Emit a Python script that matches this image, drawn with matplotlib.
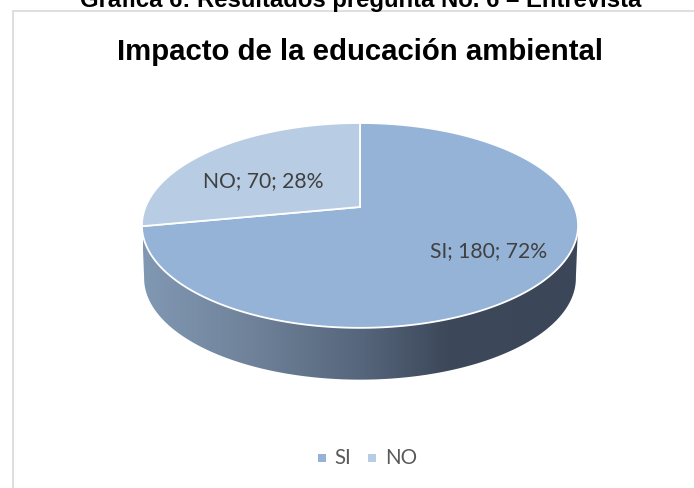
import matplotlib
matplotlib.use('Agg')
import matplotlib.pyplot as plt
from matplotlib.colors import LinearSegmentedColormap
from matplotlib.patches import Polygon, Rectangle
import numpy as np

categories = ['SI', 'NO']
values = [180, 70]
percents = ['72%', '28%']
colors = ['#95B3D7', '#B8CCE4']

caption = 'Gráfica 6: Resultados pregunta No. 6 – Entrevista'
title = 'Impacto de la educación ambiental'

wall_stops = [(0, '#8198B3'), (0.25, '#6F8299'), (0.5, '#56667C'), (0.7, '#3D485A'), (1, '#3B4658')]


def project(theta, scale=1.0, dy=0.0):
    # tilted circle, near side looks bigger, so the centre sits above the middle
    u = np.cos(theta)
    v = np.sin(theta)
    w = 1 + 0.18 * v
    return 360 + 214.5 * scale * u / w, 208 + dy - 99.1 * scale * v / w


fig = plt.figure(figsize=(6.94, 4.89), dpi=100)
ax = fig.add_axes([0, 0, 1, 1])
ax.set_xlim(0, 694)
ax.set_ylim(489, 0)
ax.axis('off')

ax.add_patch(Rectangle((13, 12), 700, 500, facecolor='white', edgecolor='#D9D9D9', linewidth=1.2))

# side wall of the pie, from the widest point on the left to the one on the right
t = np.linspace(1.055 * np.pi, 1.945 * np.pi, 200)
top_x, top_y = project(t)
bottom_x, bottom_y = project(t, scale=0.99, dy=53)
wall = np.column_stack([np.r_[top_x, bottom_x[::-1]], np.r_[top_y, bottom_y[::-1]]])
shape = Polygon(wall, closed=True, facecolor='none', edgecolor='none')
ax.add_patch(shape)
cmap = LinearSegmentedColormap.from_list('wall', wall_stops)
im = ax.imshow(np.linspace(0, 1, 256).reshape(1, -1), cmap=cmap, extent=[143, 578, 390, 220], aspect='auto', zorder=1)
im.set_clip_path(shape)
ax.set_xlim(0, 694)
ax.set_ylim(489, 0)

# top face, clockwise from 12 o'clock
start = np.pi / 2
total = sum(values)
for value, color in zip(values, colors):
    sweep = 2 * np.pi * value / total
    t = np.linspace(start, start - sweep, 300)
    x, y = project(t)
    pts = np.column_stack([np.r_[360, x], np.r_[208, y]])
    ax.add_patch(Polygon(pts, closed=True, facecolor=color, edgecolor='white', linewidth=1.3, zorder=2))
    start -= sweep

font = 'Lato'
ax.text(488.5, 251, '%s; %d; %s' % (categories[0], values[0], percents[0]), family=font, fontsize=15.2,
        color='#404040', ha='center', va='center', zorder=3)
ax.text(263, 181.5, '%s; %d; %s' % (categories[1], values[1], percents[1]), family=font, fontsize=15.2,
        color='#404040', ha='center', va='center', zorder=3)

ax.text(360.5, 7, caption, family='Liberation Sans', fontweight='bold', fontsize=17.2, color='black',
        ha='center', va='baseline')
ax.text(360.5, 60, title, family='Liberation Sans', fontweight='bold', fontsize=21.15, color='black',
        ha='center', va='baseline')

# legend
ax.add_patch(Rectangle((318, 455), 8, 8, facecolor=colors[0], edgecolor='none'))
ax.text(334, 458.5, categories[0], family=font, fontsize=14.8, color='#595959', va='center')
ax.add_patch(Rectangle((368, 455), 8, 8, facecolor=colors[1], edgecolor='none'))
ax.text(385, 458.5, categories[1], family=font, fontsize=14.8, color='#595959', va='center')

fig.savefig('out.png', dpi=100)
